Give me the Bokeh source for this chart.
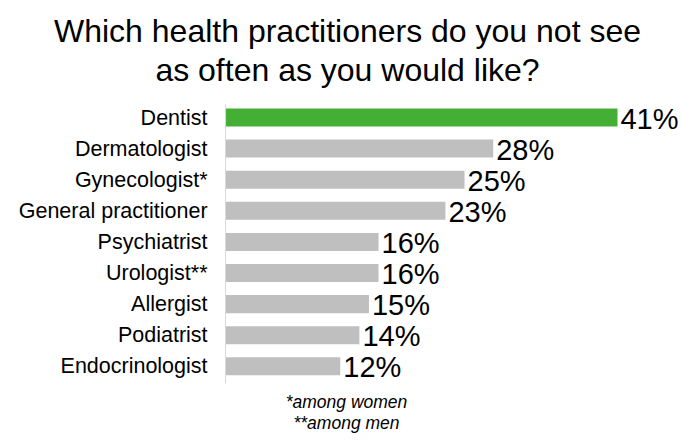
from bokeh.plotting import figure
from bokeh.models import Range1d, Label, ColumnDataSource
from bokeh.core.properties import value
from bokeh.embed import file_html
from bokeh.resources import INLINE

# ---- data ----
categories = ["Dentist", "Dermatologist", "Gynecologist*", "General practitioner",
              "Psychiatrist", "Urologist**", "Allergist", "Podiatrist", "Endocrinologist"]
percent = [41, 28, 25, 23, 16, 16, 15, 14, 12]
highlight = ["Dentist"]
title_lines = ["Which health practitioners do you not see", "as often as you would like?"]
footnotes = ["*among women", "**among men"]

FONT = "Liberation Sans"
GREEN = "#44AF35"
GRAY = "#BFBFBF"

W, H = 682, 443
n = len(categories)
rows = list(range(n))
colors = [GREEN if c in highlight else GRAY for c in categories]
labels = [f"{v}%" for v in percent]

src = ColumnDataSource(dict(y=rows, v=percent, cat=categories, color=colors,
                            lab=labels, zero=[0] * n))

p = figure(width=W, height=H, output_backend="svg", toolbar_location=None,
           x_axis_type=None, y_axis_type=None, min_border=0,
           x_range=Range1d(-23.54, 47.80), y_range=Range1d(10.482, -3.762))
p.outline_line_color = None
p.xgrid.visible = False
p.ygrid.visible = False
p.background_fill_color = "white"
p.border_fill_color = "white"

# bars
p.hbar(y="y", left="zero", right="v", height=0.58, fill_color="color",
       line_color=None, source=src)

# thin axis line
p.segment(x0=[0], x1=[0], y0=[rows[0] - 0.42], y1=[rows[-1] + 0.55],
          line_color="#D9D9D9", line_width=1)

# category labels
p.text(x="zero", y="y", text="cat", source=src, x_offset=-18,
       text_align="right", text_baseline="middle",
       text_font=value(FONT), text_font_size="21.5px", text_color="black")

# value labels
p.text(x="v", y="y", text="lab", source=src, x_offset=3, y_offset=1,
       text_align="left", text_baseline="middle",
       text_font=value(FONT), text_font_size="29px", text_color="black")

# title
for line, ys in zip(title_lines, [413, 374]):
    p.add_layout(Label(x=347, y=ys, x_units="screen", y_units="screen", text=line,
                       text_align="center", text_baseline="alphabetic",
                       text_font=FONT, text_font_size="32px", text_color="black"))

# footnotes
for line, ys in zip(footnotes, [42, 21]):
    p.add_layout(Label(x=346, y=ys, x_units="screen", y_units="screen", text=line,
                       text_align="center", text_baseline="alphabetic",
                       text_font=FONT, text_font_style="italic",
                       text_font_size="17.5px", text_color="black"))

open("out.html", "w").write(file_html(p, INLINE))
